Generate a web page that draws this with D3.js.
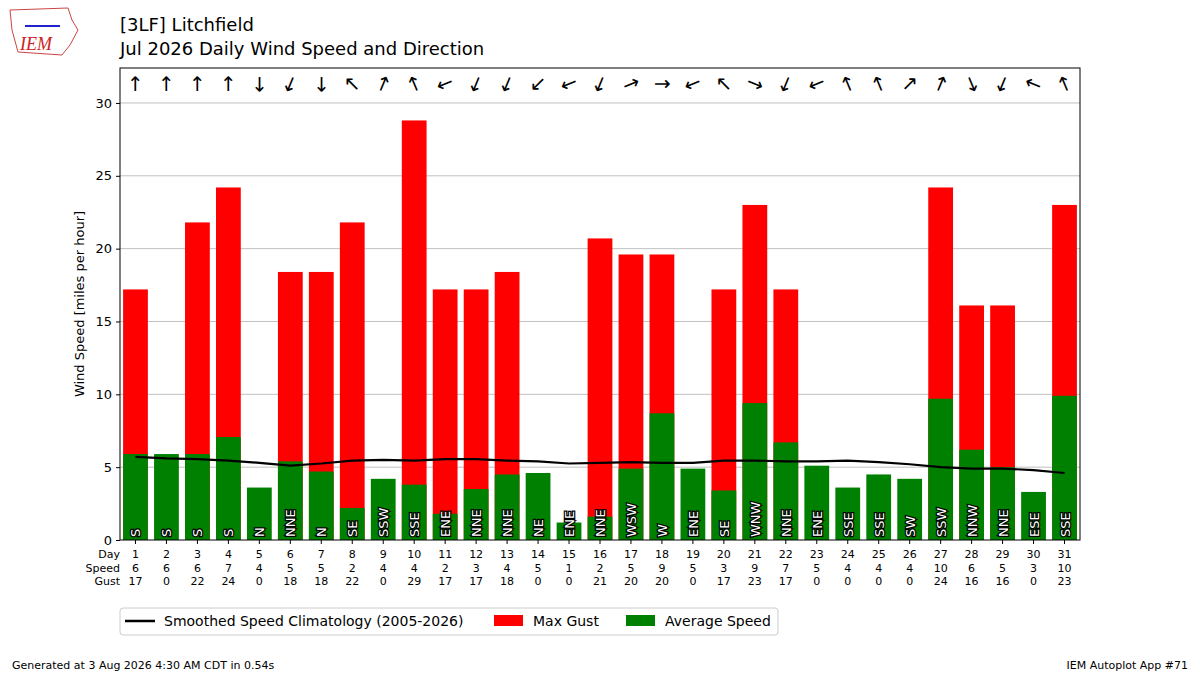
<!DOCTYPE html>
<html><head><meta charset="utf-8">
<script src="https://cdn.jsdelivr.net/npm/d3@7"></script>
<style>body{margin:0;background:#fff;font-family:"DejaVu Sans",sans-serif}</style>
</head><body><svg id="chart" width="1200" height="675"></svg>
<script>
// daily wind data: avg speed, max gust (mph), direction, table values
const days = [
  {d:1,avg:5.9,gust:17.2,dir:'S',spd:6,g:17},{d:2,avg:5.9,gust:0,dir:'S',spd:6,g:0},
  {d:3,avg:5.9,gust:21.8,dir:'S',spd:6,g:22},{d:4,avg:7.07,gust:24.2,dir:'S',spd:7,g:24},
  {d:5,avg:3.6,gust:0,dir:'N',spd:4,g:0},{d:6,avg:5.4,gust:18.4,dir:'NNE',spd:5,g:18},
  {d:7,avg:4.7,gust:18.4,dir:'N',spd:5,g:18},{d:8,avg:2.2,gust:21.8,dir:'SE',spd:2,g:22},
  {d:9,avg:4.2,gust:0,dir:'SSW',spd:4,g:0},{d:10,avg:3.8,gust:28.8,dir:'SSE',spd:4,g:29},
  {d:11,avg:1.8,gust:17.2,dir:'ENE',spd:2,g:17},{d:12,avg:3.5,gust:17.2,dir:'NNE',spd:3,g:17},
  {d:13,avg:4.5,gust:18.4,dir:'NNE',spd:4,g:18},{d:14,avg:4.6,gust:0,dir:'NE',spd:5,g:0},
  {d:15,avg:1.2,gust:0,dir:'ENE',spd:1,g:0},{d:16,avg:1.6,gust:20.7,dir:'NNE',spd:2,g:21},
  {d:17,avg:4.9,gust:19.6,dir:'WSW',spd:5,g:20},{d:18,avg:8.7,gust:19.6,dir:'W',spd:9,g:20},
  {d:19,avg:4.9,gust:0,dir:'ENE',spd:5,g:0},{d:20,avg:3.4,gust:17.2,dir:'SE',spd:3,g:17},
  {d:21,avg:9.4,gust:23.0,dir:'WNW',spd:9,g:23},{d:22,avg:6.7,gust:17.2,dir:'NNE',spd:7,g:17},
  {d:23,avg:5.1,gust:0,dir:'ENE',spd:5,g:0},{d:24,avg:3.6,gust:0,dir:'SSE',spd:4,g:0},
  {d:25,avg:4.5,gust:0,dir:'SSE',spd:4,g:0},{d:26,avg:4.2,gust:0,dir:'SW',spd:4,g:0},
  {d:27,avg:9.7,gust:24.2,dir:'SSW',spd:10,g:24},{d:28,avg:6.2,gust:16.1,dir:'NNW',spd:6,g:16},
  {d:29,avg:5.0,gust:16.1,dir:'NNE',spd:5,g:16},{d:30,avg:3.3,gust:0,dir:'ESE',spd:3,g:0},
  {d:31,avg:9.9,gust:23.0,dir:'SSE',spd:10,g:23}
];
const clim = [5.7,5.6,5.55,5.45,5.3,5.1,5.25,5.45,5.5,5.45,5.55,5.55,5.45,5.4,5.25,5.3,5.35,5.3,5.3,5.45,5.45,5.4,5.4,5.45,5.35,5.2,5.0,4.9,4.9,4.8,4.6];
const compass = ['N','NNE','NE','ENE','E','ESE','SE','SSE','S','SSW','SW','WSW','W','WNW','NW','NNW'];

const svg = d3.select('#chart');
const mLeft = 120, mRight = 1080, mTop = 68, mBottom = 540;

const x = d3.scaleBand().domain(days.map(d => d.d)).range([mLeft, mRight]).paddingInner(0.2).paddingOuter(0.1);
const y = d3.scaleLinear().domain([0, 32.4]).range([mBottom, mTop]);

// grid
svg.append('g').selectAll('line').data([5,10,15,20,25,30]).join('line')
  .attr('x1', mLeft).attr('x2', mRight).attr('y1', d => y(d)).attr('y2', d => y(d))
  .attr('stroke', '#b0b0b0').attr('stroke-width', 0.8);

// gust bars then avg
svg.append('g').selectAll('rect').data(days.filter(d => d.gust > 0)).join('rect')
  .attr('x', d => x(d.d)).attr('width', x.bandwidth())
  .attr('y', d => y(d.gust)).attr('height', d => y(0) - y(d.gust)).attr('fill', 'red');
svg.append('g').selectAll('rect').data(days).join('rect')
  .attr('x', d => x(d.d)).attr('width', x.bandwidth())
  .attr('y', d => y(d.avg)).attr('height', d => y(0) - y(d.avg)).attr('fill', 'green');

// climatology line
svg.append('path').datum(clim)
  .attr('d', d3.line().x((v, i) => x(i + 1) + x.bandwidth() / 2).y(v => y(v)))
  .attr('fill', 'none').attr('stroke', 'black').attr('stroke-width', 2.2);

// direction text inside bars
svg.append('g').selectAll('text').data(days).join('text')
  .attr('transform', d => `translate(${x(d.d) + x.bandwidth() / 2 + 5},${mBottom - 3}) rotate(-90)`)
  .attr('font-size', 13).attr('fill', 'white').attr('stroke', 'black').attr('stroke-width', 2.5)
  .attr('paint-order', 'stroke').text(d => d.dir);

// arrows at top
svg.append('g').selectAll('text').data(days).join('text')
  .attr('transform', d => {
    const ang = compass.indexOf(d.dir) * 22.5 + 180;
    return `translate(${x(d.d) + x.bandwidth() / 2},${y(31.3)}) rotate(${ang})`;
  })
  .attr('text-anchor', 'middle').attr('dy', '0.35em').attr('font-size', 20).text('↑');

// frame
svg.append('rect').attr('x', mLeft).attr('y', mTop).attr('width', mRight - mLeft).attr('height', mBottom - mTop)
  .attr('fill', 'none').attr('stroke', 'black').attr('stroke-width', 1);

// y axis
const ya = svg.append('g').attr('transform', `translate(${mLeft},0)`)
  .call(d3.axisLeft(y).tickValues([0,5,10,15,20,25,30]).tickSize(4).tickPadding(4));
ya.select('.domain').remove();
ya.selectAll('text').attr('font-size', 13).attr('font-family', 'DejaVu Sans');
svg.append('text').attr('transform', `translate(84,${(mTop + mBottom) / 2}) rotate(-90)`)
  .attr('text-anchor', 'middle').attr('font-size', 13).text('Wind Speed [miles per hour]');

// x ticks and table
svg.append('g').selectAll('line').data(days).join('line')
  .attr('x1', d => x(d.d) + x.bandwidth() / 2).attr('x2', d => x(d.d) + x.bandwidth() / 2)
  .attr('y1', mBottom).attr('y2', mBottom + 4).attr('stroke', 'black');
const rows = [['Day', d => d.d], ['Speed', d => d.spd], ['Gust', d => d.g]];
rows.forEach(([lab, f], i) => {
  const yy = 558 + i * 13.5;
  svg.append('text').attr('x', 120).attr('y', yy).attr('text-anchor', 'end').attr('font-size', 11).text(lab);
  svg.append('g').selectAll('text').data(days).join('text')
    .attr('x', d => x(d.d) + x.bandwidth() / 2).attr('y', yy)
    .attr('text-anchor', 'middle').attr('font-size', 11).text(f);
});

// legend
const lg = svg.append('g');
lg.append('rect').attr('x', 120).attr('y', 608).attr('width', 658).attr('height', 27)
  .attr('fill', 'white').attr('stroke', '#ccc').attr('rx', 3);
lg.append('line').attr('x1', 125).attr('x2', 155).attr('y1', 621).attr('y2', 621).attr('stroke', 'black').attr('stroke-width', 2.5);
lg.append('text').attr('x', 164).attr('y', 626).attr('font-size', 14).text('Smoothed Speed Climatology (2005-2026)');
lg.append('rect').attr('x', 494).attr('y', 615).attr('width', 29).attr('height', 11).attr('fill', 'red');
lg.append('text').attr('x', 533).attr('y', 626).attr('font-size', 14).text('Max Gust');
lg.append('rect').attr('x', 626).attr('y', 615).attr('width', 29).attr('height', 11).attr('fill', 'green');
lg.append('text').attr('x', 665).attr('y', 626).attr('font-size', 14).text('Average Speed');

// titles
svg.append('text').attr('x', 120).attr('y', 31).attr('font-size', 18).text('[3LF] Litchfield');
svg.append('text').attr('x', 120).attr('y', 55).attr('font-size', 18).text('Jul 2026 Daily Wind Speed and Direction');
svg.append('text').attr('x', 12).attr('y', 669).attr('font-size', 11).text('Generated at 3 Aug 2026 4:30 AM CDT in 0.54s');
svg.append('text').attr('x', 1188).attr('y', 669).attr('text-anchor', 'end').attr('font-size', 11).text('IEM Autoplot App #71');

// logo
const logo = svg.append('g');
logo.append('path').attr('d', 'M10,10 L68,8 L72,20 L78,30 L70,45 L62,55 L18,52 L12,30 Z')
  .attr('fill', 'white').attr('stroke', '#c44').attr('stroke-width', 1);
logo.append('text').attr('x', 20).attr('y', 50).attr('font-size', 18).attr('font-style', 'italic')
  .attr('fill', '#c22').attr('font-family', 'Liberation Serif').text('IEM');
logo.append('line').attr('x1', 25).attr('x2', 60).attr('y1', 26).attr('y2', 26).attr('stroke', '#22c').attr('stroke-width', 2);
</script>
</body></html>
